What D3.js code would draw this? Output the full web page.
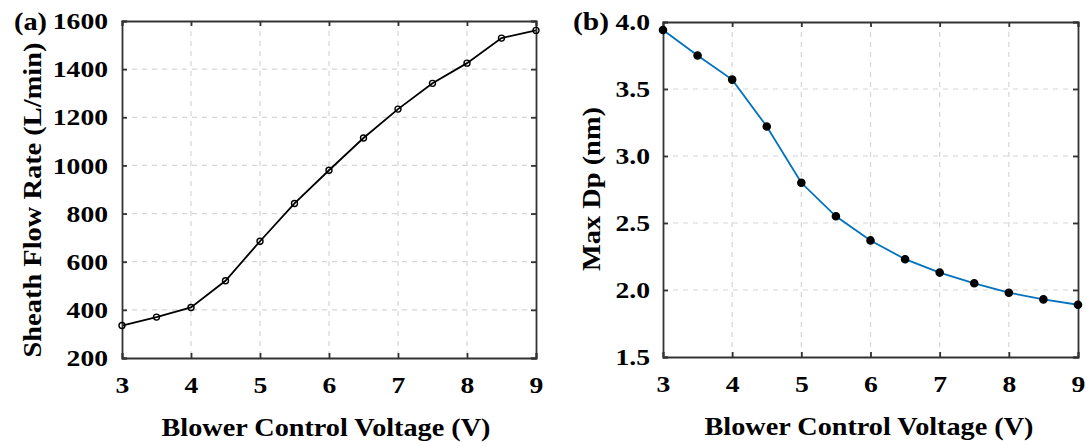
<!DOCTYPE html>
<html>
<head>
<meta charset="utf-8">
<script src="https://cdn.jsdelivr.net/npm/d3@7"></script>
<style>
  body { margin: 0; background: #fff; }
  text { font-family: "Liberation Serif", "Times New Roman", serif; font-weight: bold; fill: #000; }
</style>
</head>
<body>
<div id="chart"></div>
<script>
const voltage = [3, 3.5, 4, 4.5, 5, 5.5, 6, 6.5, 7, 7.5, 8, 8.5, 9];
const sheathFlow = [335, 370, 410, 521, 685, 842, 980, 1114, 1234, 1341, 1425, 1529, 1561];
const maxDp = [3.94, 3.75, 3.57, 3.22, 2.80, 2.55, 2.37, 2.23, 2.13, 2.05, 1.98, 1.93, 1.89];
const xTicks = [3, 4, 5, 6, 7, 8, 9];
const flowTicks = [200, 400, 600, 800, 1000, 1200, 1400, 1600];
const dpTicks = [1.5, 2.0, 2.5, 3.0, 3.5, 4.0];

const svgWidth = 1086;
const svgHeight = 446;
const svg = d3.select("#chart")
    .append("svg")
    .attr("width", svgWidth)
    .attr("height", svgHeight);

function panel(opts) {
    const g = svg.append("g").attr("transform", `translate(${opts.left}, ${opts.top})`);
    const w = opts.width, h = opts.height;

    const xScale = d3.scaleLinear().domain([3, 9]).range([0, w]);
    const yScale = d3.scaleLinear().domain(opts.yDomain).range([h, 0]);

    // dashed grid
    g.selectAll(".vgrid")
        .data(xTicks.slice(1, -1))
        .enter()
        .append("line")
        .attr("x1", d => xScale(d)).attr("x2", d => xScale(d))
        .attr("y1", 0).attr("y2", h)
        .attr("stroke", "#d6d6d6").attr("stroke-width", 1.2)
        .attr("stroke-dasharray", "5,5");
    g.selectAll(".hgrid")
        .data(opts.yTicks.slice(1, -1))
        .enter()
        .append("line")
        .attr("y1", d => yScale(d)).attr("y2", d => yScale(d))
        .attr("x1", 0).attr("x2", w)
        .attr("stroke", "#d6d6d6").attr("stroke-width", 1.2)
        .attr("stroke-dasharray", "5,5");

    const line = d3.line()
        .x((d, i) => xScale(voltage[i]))
        .y(d => yScale(d));

    g.append("path")
        .datum(opts.values)
        .attr("fill", "none")
        .attr("stroke", opts.lineColor)
        .attr("stroke-width", 1.8)
        .attr("d", line);

    // axes box with inward ticks
    const axes = [
        {a: d3.axisBottom(xScale).tickValues(xTicks).tickSize(-5).tickPadding(18).tickFormat(d3.format("d")), t: `translate(0, ${h})`},
        {a: d3.axisTop(xScale).tickValues(xTicks).tickSize(-5).tickFormat(""), t: "translate(0, 0)"},
        {a: d3.axisLeft(yScale).tickValues(opts.yTicks).tickSize(-5).tickPadding(opts.yPad).tickFormat(opts.fmt), t: "translate(0, 0)"},
        {a: d3.axisRight(yScale).tickValues(opts.yTicks).tickSize(-5).tickFormat(""), t: `translate(${w}, 0)`}
    ];
    axes.forEach(ax => {
        const ag = g.append("g").attr("transform", ax.t).call(ax.a)
            .attr("font-family", "Liberation Serif")
            .attr("font-size", 24)
            .attr("font-weight", "bold");
        ag.select(".domain").attr("stroke", "#333").attr("stroke-width", 1.8);
        ag.selectAll(".tick line").attr("stroke", "#333").attr("stroke-width", 1.8);
        ag.selectAll(".tick text")
            .attr("fill", "#000")
            .style("font-size", "24px")
            .each(function() {
                const len = this.getComputedTextLength();
                if (len > 0) {
                    d3.select(this)
                        .attr("textLength", len * 1.15)
                        .attr("lengthAdjust", "spacingAndGlyphs");
                }
            });
    });

    g.selectAll(".pt")
        .data(opts.values)
        .enter()
        .append("circle")
        .attr("cx", (d, i) => xScale(voltage[i]))
        .attr("cy", d => yScale(d))
        .attr("r", opts.r)
        .attr("fill", opts.markerFill)
        .attr("stroke", "#000")
        .attr("stroke-width", 1.4);

    // axis titles
    g.append("text")
        .attr("x", opts.xLabelX)
        .attr("y", h + 78)
        .attr("text-anchor", "middle")
        .attr("textLength", 329)
        .attr("lengthAdjust", "spacingAndGlyphs")
        .style("font-size", "26px")
        .text("Blower Control Voltage (V)");

    g.append("text")
        .attr("transform", `translate(${opts.yLabelX}, ${opts.yLabelY}) rotate(-90)`)
        .attr("text-anchor", "middle")
        .attr("textLength", opts.yLabelLen)
        .attr("lengthAdjust", "spacingAndGlyphs")
        .style("font-size", "26px")
        .text(opts.yLabel);

    svg.append("text")
        .attr("x", opts.tagX)
        .attr("y", 30)
        .attr("textLength", opts.tagLen)
        .attr("lengthAdjust", "spacingAndGlyphs")
        .style("font-size", "25px")
        .text(opts.tag);

    return g;
}

panel({
    left: 122, top: 21, width: 414, height: 337,
    yDomain: [200, 1600], yTicks: flowTicks, fmt: d3.format("d"), yPad: 14,
    values: sheathFlow,
    lineColor: "#000", markerFill: "none", r: 3,
    xLabelX: 204,
    yLabel: "Sheath Flow Rate (L/min)", yLabelX: -81, yLabelY: 179, yLabelLen: 315,
    tag: "(a)", tagX: 14, tagLen: 33
});

panel({
    left: 663, top: 22, width: 415, height: 335,
    yDomain: [1.5, 4.0], yTicks: dpTicks, fmt: d3.format(".1f"), yPad: 13,
    values: maxDp,
    lineColor: "#0072BD", markerFill: "#000", r: 3.6,
    xLabelX: 206,
    yLabel: "Max Dp (nm)", yLabelX: -63, yLabelY: 167, yLabelLen: 164,
    tag: "(b)", tagX: 573, tagLen: 36
});
</script>
</body>
</html>
